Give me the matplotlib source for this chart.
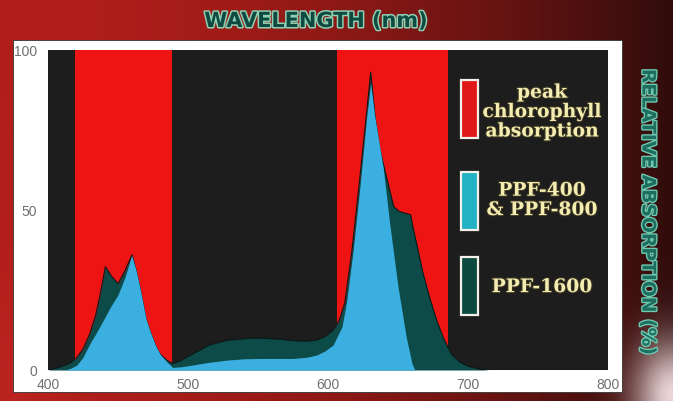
import numpy as np
import matplotlib
matplotlib.use("Agg")
import matplotlib.pyplot as plt
import matplotlib.patheffects as pe
from matplotlib.patches import Rectangle

# ---------------- data ----------------
band_ranges = [(419.5, 488.5), (606.5, 685.5)]   # peak chlorophyll absorption (nm)

wl_1600 = [400, 405, 410, 415, 420, 425, 430, 434, 437, 441, 445, 450, 455, 460,
           463, 466, 470, 473, 477, 480, 485, 489, 495, 504, 515, 528, 540, 551,
           563, 575, 585, 592, 598, 603.6, 608, 612, 617, 622, 627, 630.5, 633.6,
           637, 643, 647, 651, 659, 660.5, 664, 668, 673, 678, 683, 688, 694, 700,
           708, 715, 800]
val_1600 = [0, 0.5, 1.2, 2, 3.6, 6.5, 11.5, 17, 23, 32.3, 29.5, 27, 31, 36,
            31, 25, 16, 12, 7.5, 5, 3, 2, 3, 5.2, 7.8, 9.3, 9.8, 10.0,
            9.7, 9.2, 9.0, 9.4, 10.5, 12.5, 15.5, 21, 37, 57, 78, 93, 79,
            69, 58, 51, 49.5, 48.5, 45, 38, 30, 22, 15, 9.5, 5, 2.5, 1.2,
            0.3, 0, 0]

wl_400_800 = [400, 412, 416, 420.5, 425, 430, 435, 440.7, 445, 450, 455, 459.8,
              463, 466, 470, 473, 477, 480, 485, 489, 495, 504, 515, 528, 540,
              551, 563, 575, 585, 592, 598, 603.6, 610, 613.5, 618, 623, 627.6,
              630.5, 633.5, 639.5, 644, 650, 656, 660, 662, 800]
val_400_800 = [0, 0, 0.5, 1.5, 4, 8.3, 12, 16.5, 20, 23.5, 29, 35.8,
               31, 25, 16, 12, 7.5, 5, 2.5, 0.8, 1.0, 1.6, 2.4, 3.1, 3.5,
               3.6, 3.6, 3.6, 4.0, 4.7, 6.0, 7.8, 13.5, 22, 37.5, 58, 79,
               89.6, 79, 63, 46, 26, 10, 2, 0, 0]

x_ticks = [400, 500, 600, 700, 800]
y_ticks = [0, 50, 100]
legend_labels = ["peak\nchlorophyll\nabsorption", "PPF-400\n& PPF-800", "PPF-1600"]

# ---------------- colours ----------------
c_bg = "#1d1d1d"
c_red = "#ee1414"
c_dark = "#0c4b48"
c_blue = "#3cafe1"
leg_colors = ["#e01818", "#22b2c4", "#0c4a40"]

W, H = 673, 401
fig = plt.figure(figsize=(W / 100, H / 100), dpi=100)

# background gradient
bg_ax = fig.add_axes([0, 0, 1, 1], zorder=-10)
yy, xx = np.mgrid[0:H, 0:W]
t = (xx / W) ** 1.8
left = np.array([178, 30, 26]) / 255
right = np.array([48, 12, 12]) / 255
img = left[None, None, :] * (1 - t[..., None]) + right[None, None, :] * t[..., None]
bl = np.exp(-(((xx - 0) / 60) ** 2 + ((yy - 401) / 120) ** 2))
img = img * (1 - 0.3 * bl[..., None]) + np.array([210, 50, 45])[None, None, :] / 255 * 0.3 * bl[..., None]
br = np.exp(-(((xx - 673) / 40) ** 2 + ((yy - 395) / 55) ** 2))
img = img * (1 - br[..., None]) + np.array([235, 215, 215])[None, None, :] / 255 * br[..., None]
bg_ax.imshow(np.clip(img, 0, 1), aspect="auto", extent=[0, W, H, 0])
bg_ax.set_xlim(0, W)
bg_ax.set_ylim(H, 0)
bg_ax.axis("off")

# white panel
fig.patches.append(Rectangle((13 / W, (H - 392) / H), 609 / W, 352 / H,
                             transform=fig.transFigure, facecolor="white",
                             edgecolor="#333333", linewidth=0.6, zorder=-5))

ax = fig.add_axes([48 / W, (H - 370) / H, 560 / W, 320 / H])
ax.set_facecolor(c_bg)
for (a, b) in band_ranges:
    ax.axvspan(a, b, color=c_red, lw=0, zorder=1)

ax.fill_between(wl_1600, val_1600, 0, color=c_dark, lw=0, zorder=2)
ax.plot(wl_1600, val_1600, color="#0a1a1a", lw=0.8, zorder=2.5)
ax.fill_between(wl_400_800, val_400_800, 0, color=c_blue, lw=0, zorder=3)

ax.set_xlim(400, 800)
ax.set_ylim(0, 100)
ax.set_xticks(x_ticks)
ax.set_yticks(y_ticks)
ax.tick_params(axis="both", length=0, labelcolor="#707070", labelsize=10)
ax.tick_params(axis="x", pad=6)
ax.tick_params(axis="y", pad=8)
for lab in ax.get_xticklabels() + ax.get_yticklabels():
    lab.set_fontfamily("Liberation Sans")
for s in ax.spines.values():
    s.set_visible(False)

# legend (manual)
patch_y = [(0.725, 0.906), (0.4375, 0.619), (0.172, 0.353)]
text_y = [0.806, 0.53, 0.259]
for col, (y0, y1), lab, ty in zip(leg_colors, patch_y, legend_labels, text_y):
    ax.add_patch(Rectangle((0.737, y0), 0.03, y1 - y0, transform=ax.transAxes,
                           facecolor=col, edgecolor="#f2f0e8", linewidth=1.6, zorder=5))
    ax.text(0.882, ty, lab, transform=ax.transAxes, ha="center", va="center",
            multialignment="center", fontsize=13.5, fontweight="bold",
            family="DejaVu Serif", color="#f4ecb0", linespacing=1.1, zorder=6,
            path_effects=[pe.withStroke(linewidth=1.5, foreground="#3a3520")])

# titles
fig.text(316 / W, 1 - 21 / H, "WAVELENGTH (nm)", ha="center", va="center",
         fontsize=15, fontweight="bold", family="DejaVu Sans", color="#0e4a40",
         path_effects=[pe.withStroke(linewidth=2.2, foreground="#8fd0b4")])
fig.text(648 / W, 1 - 212 / H, "RELATIVE ABSORPTION (%)", ha="center", va="center",
         rotation=-90, fontsize=13.5, fontweight="bold", family="DejaVu Sans",
         color="#1e6e60", path_effects=[pe.withStroke(linewidth=2.0, foreground="#6fc8b0")])

fig.savefig("out.png", dpi=100)
